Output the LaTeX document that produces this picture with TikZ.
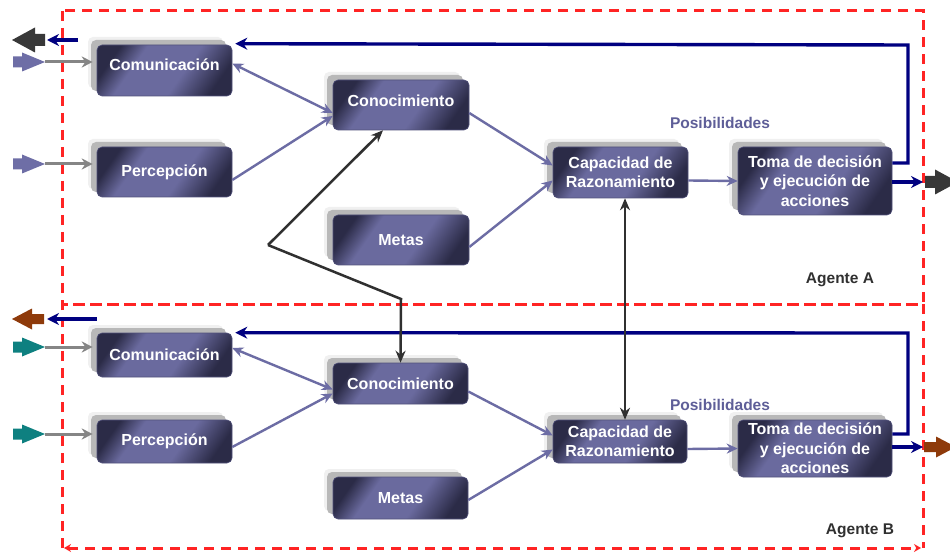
\documentclass[tikz,border=0pt]{standalone}
\usepackage{fontspec}
\setmainfont{Liberation Sans}
\usetikzlibrary{shadows,arrows.meta}

\definecolor{boxdark}{HTML}{2B2B47}
\definecolor{boxmid}{HTML}{6A6A9E}
\definecolor{lav}{HTML}{6C6CA4}
\definecolor{navy}{HTML}{000080}
\definecolor{blk}{HTML}{303030}
\definecolor{ingray}{HTML}{858585}
\definecolor{inlav}{HTML}{6E6EA6}
\definecolor{teal2}{HTML}{0E8080}
\definecolor{brown2}{HTML}{8E3A0A}
\definecolor{darkarr}{HTML}{383838}
\definecolor{agred}{HTML}{FF2424}
\definecolor{posib}{HTML}{5E5E98}

% diagonal body shading of the agent modules
\pgfdeclarehorizontalshading{agentbox}{100bp}{color(0bp)=(boxdark); color(25bp)=(boxdark); color(36bp)=(boxmid); color(58bp)=(boxmid); color(75bp)=(boxdark); color(100bp)=(boxdark)}

\tikzset{
  module/.style={rounded corners=5pt, shading=agentbox, shading angle=-35,
    draw=boxdark!40!boxmid, line width=0.6pt, text=white,
    font=\bfseries\fontsize{16}{19.5}\selectfont, align=center, inner sep=2pt,
    general shadow={fill=black!6, shadow xshift=-9pt, shadow yshift=8pt},
    general shadow={fill=black!28, shadow xshift=-6pt, shadow yshift=5pt}},
  lavedge/.style={draw=lav, line width=2.4pt, -{Stealth[length=11pt,width=10pt]}},
  lavboth/.style={draw=lav, line width=2.4pt, {Stealth[length=11pt,width=10pt]}-{Stealth[length=11pt,width=10pt]}},
  navyline/.style={draw=navy, line width=3.4pt},
  navyarrow/.style={navyline, -{Stealth[length=12pt,width=12pt]}},
  inedge/.style={draw=ingray, line width=3pt, -{Stealth[length=11pt,width=11pt]}},
  blkedge/.style={draw=blk, line width=2.5pt, -{Stealth[length=12pt,width=10pt]}},
  blkboth/.style={draw=blk, line width=2.5pt, {Stealth[length=12pt,width=10pt]}-{Stealth[length=12pt,width=10pt]}},
  agentframe/.style={draw=agred, line width=3pt, dash pattern=on 10pt off 7pt},
  caption/.style={font=\bfseries\fontsize{15.5}{18}\selectfont},
  smallarrow/.pic={\fill[pic actions] (-32,-5.5) -- (-23,-5.5) -- (-23,-9.5) -- (0,0) -- (-23,9.5) -- (-23,5.5) -- (-32,5.5) -- cycle;},
  midarrow/.pic={\fill[pic actions] (-32,-5) -- (-20,-5) -- (-20,-10.5) -- (0,0) -- (-20,10.5) -- (-20,5) -- (-32,5) -- cycle;},
  bigarrow/.pic={\fill[pic actions] (-33,-6) -- (-23,-6) -- (-23,-12.5) -- (0,0) -- (-23,12.5) -- (-23,6) -- (-33,6) -- cycle;}
}

\begin{document}
\begin{tikzpicture}[x=1pt,y=-1pt]
\useasboundingbox (0,0) rectangle (950,553);
\fill[white] (0,0) rectangle (950,553);

% agent frames
\draw[agentframe] (62,11) rectangle (923,304);
\draw[agentframe] (62,548) -- (62,304) -- (923,304) -- (923,548);
\draw[agentframe, {Stealth[length=7pt,width=8pt]}-{Stealth[length=7pt,width=8pt]}] (64,548) -- (921,548);

% ---------- Agente A ----------
\node[module, minimum width=135pt, minimum height=51pt] (comA) at (164.5,70.5) {\raisebox{11pt}{Comunicación}};
\node[module, minimum width=135pt, minimum height=50pt] (perA) at (164.5,172) {Percepción};
\node[module, minimum width=136pt, minimum height=50pt] (conA) at (401,105) {\raisebox{9pt}{Conocimiento}};
\node[module, minimum width=136pt, minimum height=50pt] (metA) at (401,240) {Metas};
\node[module, minimum width=135pt, minimum height=51pt] (capA) at (620.5,172.5) {Capacidad de\\Razonamiento};
\node[module, minimum width=154pt, minimum height=68pt] (tomA) at (815,181) {Toma de decisión\\y ejecución de\\acciones};

\node[caption, text=posib] (posA) at (720,123) {Posibilidades};
\node[caption, text=blk] (agA) at (840,280) {Agente A};

% inputs and outputs of A
\coordinate (inA1) at (45,62);
\coordinate (inA2) at (45,164);
\pic[fill=inlav] at (inA1) {smallarrow};
\pic[fill=inlav] at (inA2) {smallarrow};
\draw[inedge] (inA1) -- ([xshift=-4pt,yshift=8.5pt]comA.west);
\draw[inedge] (inA2) -- ([xshift=-4pt,yshift=8pt]perA.west);

\coordinate (outA0) at (78,40);
\coordinate (outA1) at (47,40);
\draw[navyarrow] (outA0) -- (outA1);
\pic[fill=darkarr, rotate=180] at (12,40) {bigarrow};

\coordinate (fbA) at (908,45);
\draw[navyarrow] ([yshift=18pt]tomA.east) -| (fbA) -- ([xshift=3pt,yshift=1pt]comA.north east);
\coordinate (outA2) at (923,182);
\draw[navyarrow] ([yshift=-1pt]tomA.east) -- (outA2);
\pic[fill=darkarr] at (958,182) {bigarrow};

% internal flow of A
\draw[lavboth] ([yshift=7pt]comA.east) -- ([yshift=-8pt]conA.west);
\draw[lavedge] ([yshift=-8pt]perA.east) -- ([yshift=-11pt]conA.west);
\draw[lavedge] ([yshift=-8pt]conA.east) -- ([yshift=7pt]capA.west);
\draw[lavedge] ([yshift=-7pt]metA.east) -- ([yshift=-8pt]capA.west);
\draw[lavedge] ([yshift=-8pt]capA.east) -- (tomA.west);

% ---------- Agente B ----------
\node[module, minimum width=135pt, minimum height=44pt] (comB) at (164.5,355) {Comunicación};
\node[module, minimum width=135pt, minimum height=43pt] (perB) at (164.5,441.5) {Percepción};
\node[module, minimum width=135pt, minimum height=41pt] (conB) at (400.5,383.5) {Conocimiento};
\node[module, minimum width=135pt, minimum height=42pt] (metB) at (400.5,498) {Metas};
\node[module, minimum width=134pt, minimum height=43pt] (capB) at (620,441.5) {Capacidad de\\Razonamiento};
\node[module, minimum width=154pt, minimum height=57pt] (tomB) at (815,448.5) {Toma de decisión\\y ejecución de\\acciones};

\node[caption, text=posib] (posB) at (720,405) {Posibilidades};
\node[caption, text=blk] (agB) at (860,531) {Agente B};

% inputs and outputs of B
\coordinate (inB1) at (45,347);
\coordinate (inB2) at (45,434);
\pic[fill=teal2] at (inB1) {smallarrow};
\pic[fill=teal2] at (inB2) {smallarrow};
\draw[inedge] (inB1) -- ([xshift=-4pt,yshift=8pt]comB.west);
\draw[inedge] (inB2) -- ([xshift=-4pt,yshift=7.5pt]perB.west);

\coordinate (outB0) at (97,319);
\coordinate (outB1) at (47,319);
\draw[navyarrow] (outB0) -- (outB1);
\pic[fill=brown2, rotate=180] at (12,319) {midarrow};

\coordinate (fbB) at (908,333);
\draw[navyarrow] ([yshift=14.5pt]tomB.east) -| (fbB) -- ([xshift=3pt]comB.north east);
\coordinate (outB2) at (923,447);
\draw[navyarrow] ([yshift=1.5pt]tomB.east) -- (outB2);
\pic[fill=brown2] at (956,447) {midarrow};

% internal flow of B
\draw[lavboth] ([yshift=7pt]comB.east) -- ([yshift=-6pt]conB.west);
\draw[lavedge] ([yshift=-5.5pt]perB.east) -- ([yshift=-10pt]conB.west);
\draw[lavedge] ([yshift=-8pt]conB.east) -- ([yshift=6pt]capB.west);
\draw[lavedge] ([yshift=-2pt]metB.east) -- ([yshift=-8pt]capB.west);
\draw[lavedge] ([yshift=-7.5pt]capB.east) -- (tomB.west);

% ---------- links between the agents ----------
\coordinate (jct) at (268,245);
\coordinate (bend) at (401,299);
\draw[blkedge] (jct) -- ([xshift=-18pt]conA.south);
\draw[blkedge] (jct) -- (bend) -- (conB.north);
\draw[blkboth] ([xshift=4.5pt]capA.south) -- ([xshift=5pt]capB.north);
\end{tikzpicture}
\end{document}
